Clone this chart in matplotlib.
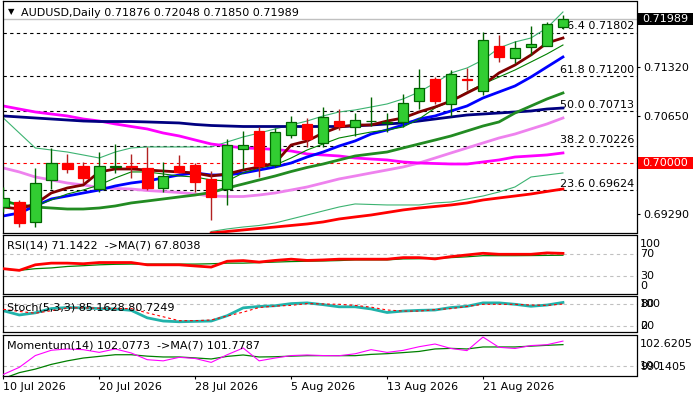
import matplotlib
matplotlib.use("Agg")
import matplotlib.pyplot as plt
import numpy as np
import pandas as pd
from matplotlib.transforms import blended_transform_factory as blend
from matplotlib.patches import Rectangle

plt.rcParams['font.family'] = ['DejaVu Sans']

# ---------------- data ----------------
symbol = "AUDUSD"
timeframe = "Daily"
dates = pd.bdate_range("2026-07-10", periods=36)
date_labels = ["10 Jul 2026", "20 Jul 2026", "28 Jul 2026", "5 Aug 2026", "13 Aug 2026", "21 Aug 2026"]

opens = [0.69387, 0.69452, 0.69175, 0.69757, 0.69992, 0.69955, 0.69632, 0.69940, 0.69948, 0.69923,
         0.69646, 0.69955, 0.69968, 0.69770, 0.69640, 0.70186, 0.70439, 0.69964, 0.70384, 0.70532,
         0.70269, 0.70577, 0.70498, 0.70573, 0.70550, 0.70559, 0.70850, 0.71159, 0.70808, 0.71152,
         0.70997, 0.71615, 0.71445, 0.71597, 0.71619, 0.71876]
highs = [0.69664, 0.69484, 0.69923, 0.70199, 0.70121, 0.70014, 0.70144, 0.70259, 0.70116, 0.70213,
         0.70014, 0.70107, 0.69992, 0.69889, 0.70324, 0.70439, 0.70498, 0.70485, 0.70647, 0.70615,
         0.70767, 0.70743, 0.70692, 0.70914, 0.70688, 0.70951, 0.71297, 0.71190, 0.71283, 0.71307,
         0.71805, 0.71768, 0.71685, 0.71896, 0.71952, 0.72048]
lows = [0.69318, 0.69114, 0.69106, 0.69636, 0.69853, 0.69715, 0.69599, 0.69862, 0.69784, 0.69622,
        0.69599, 0.69853, 0.69599, 0.69207, 0.69415, 0.69917, 0.69806, 0.69937, 0.70338, 0.70222,
        0.70222, 0.70453, 0.70370, 0.70508, 0.70425, 0.70498, 0.70743, 0.70813, 0.70651, 0.71006,
        0.70937, 0.71398, 0.71376, 0.71491, 0.71610, 0.71850]
closes = [0.69512, 0.69161, 0.69715, 0.69992, 0.69917, 0.69793, 0.69950, 0.69948, 0.69940, 0.69654,
          0.69816, 0.69867, 0.69729, 0.69530, 0.70241, 0.70241, 0.69959, 0.70421, 0.70559, 0.70324,
          0.70637, 0.70508, 0.70591, 0.70584, 0.70570, 0.70826, 0.71030, 0.70858, 0.71228, 0.71138,
          0.71694, 0.71467, 0.71588, 0.71643, 0.71916, 0.71989]

ma_maroon = [0.69387, 0.69359, 0.69429, 0.69581, 0.69650, 0.69692, 0.69872, 0.69913, 0.69913, 0.69899,
             0.69885, 0.69872, 0.69858, 0.69816, 0.69844, 0.69899, 0.69941, 0.69996, 0.70245, 0.70301,
             0.70411, 0.70494, 0.70522, 0.70522, 0.70577, 0.70619, 0.70702, 0.70771, 0.70854, 0.70965,
             0.71076, 0.71242, 0.71352, 0.71491, 0.71657, 0.71726]
ma_blue = [0.69263, 0.69304, 0.69401, 0.69498, 0.69539, 0.69581, 0.69622, 0.69678, 0.69719, 0.69747,
           0.69789, 0.69830, 0.69858, 0.69830, 0.69830, 0.69858, 0.69899, 0.69941, 0.69996, 0.70079,
           0.70148, 0.70231, 0.70301, 0.70397, 0.70453, 0.70522, 0.70605, 0.70647, 0.70716, 0.70785,
           0.70896, 0.70979, 0.71062, 0.71186, 0.71325, 0.71463]
ma_thin_green = [0.69484, 0.69415, 0.69401, 0.69484, 0.69567, 0.69622, 0.69692, 0.69789, 0.69872, 0.69872,
                 0.69844, 0.69816, 0.69802, 0.69761, 0.69747, 0.69858, 0.69927, 0.69968, 0.70065, 0.70176,
                 0.70259, 0.70342, 0.70384, 0.70425, 0.70453, 0.70494, 0.70605, 0.70757, 0.70854, 0.70979,
                 0.71089, 0.71186, 0.71283, 0.71394, 0.71505, 0.71629]
ma_green = [0.69470, 0.69415, 0.69387, 0.69373, 0.69359, 0.69359, 0.69373, 0.69401, 0.69443, 0.69470,
            0.69498, 0.69526, 0.69553, 0.69588, 0.69650, 0.69705, 0.69761, 0.69816, 0.69878, 0.69934,
            0.69982, 0.70038, 0.70093, 0.70121, 0.70148, 0.70204, 0.70259, 0.70314, 0.70370, 0.70439,
            0.70508, 0.70564, 0.70688, 0.70785, 0.70882, 0.70965]
ma_navy = [0.70647, 0.70633, 0.70619, 0.70605, 0.70591, 0.70577, 0.70570, 0.70570, 0.70570, 0.70564,
           0.70557, 0.70550, 0.70529, 0.70515, 0.70508, 0.70501, 0.70501, 0.70501, 0.70501, 0.70501,
           0.70501, 0.70501, 0.70508, 0.70522, 0.70536, 0.70550, 0.70577, 0.70605, 0.70633, 0.70660,
           0.70674, 0.70688, 0.70702, 0.70716, 0.70743, 0.70757]
ma_magenta = [0.70785, 0.70743, 0.70702, 0.70674, 0.70647, 0.70605, 0.70577, 0.70536, 0.70501, 0.70467,
              0.70411, 0.70370, 0.70314, 0.70259, 0.70231, 0.70204, 0.70197, 0.70183, 0.70162, 0.70121,
              0.70107, 0.70093, 0.70065, 0.70051, 0.70038, 0.70010, 0.69996, 0.69989, 0.69982, 0.69982,
              0.70010, 0.70038, 0.70079, 0.70093, 0.70107, 0.70135]
ma_violet = [0.69927, 0.69872, 0.69802, 0.69761, 0.69719, 0.69692, 0.69657, 0.69643, 0.69636, 0.69615,
             0.69602, 0.69588, 0.69567, 0.69539, 0.69532, 0.69532, 0.69553, 0.69581, 0.69622, 0.69664,
             0.69719, 0.69775, 0.69816, 0.69858, 0.69899, 0.69941, 0.69996, 0.70065, 0.70135, 0.70204,
             0.70273, 0.70342, 0.70397, 0.70467, 0.70536, 0.70619]
ma_red = [np.nan] * 13 + [0.69027, 0.69048, 0.69069, 0.69090, 0.69110, 0.69131, 0.69152, 0.69180, 0.69221,
                          0.69249, 0.69276, 0.69311, 0.69346, 0.69373, 0.69394, 0.69415, 0.69443, 0.69484,
                          0.69512, 0.69539, 0.69567, 0.69602, 0.69636]
band_upper = [0.70619, 0.70411, 0.70204, 0.70176, 0.70148, 0.70107, 0.70065, 0.70148, 0.70204, 0.70218,
              0.70218, 0.70218, 0.70218, 0.70218, 0.70287, 0.70356, 0.70411, 0.70467, 0.70522, 0.70577,
              0.70647, 0.70702, 0.70730, 0.70771, 0.70813, 0.70882, 0.70979, 0.71103, 0.71242, 0.71311,
              0.71422, 0.71588, 0.71671, 0.71726, 0.71865, 0.72086]
band_lower = [np.nan] * 13 + [0.69048, 0.69083, 0.69110, 0.69131, 0.69166, 0.69221, 0.69276, 0.69332, 0.69387,
                              0.69429, 0.69422, 0.69415, 0.69415, 0.69415, 0.69443, 0.69456, 0.69498, 0.69539,
                              0.69595, 0.69664, 0.69802, 0.69830, 0.69858]

fib_pct = ["23.6", "38.2", "50.0", "61.8", "76.4"]
fib_vals = [0.69624, 0.70226, 0.70713, 0.71200, 0.71802]
level_line = 0.70000
price_ticks = [0.71320, 0.70650, 0.69290]

rsi = [43.6, 40.6, 50.6, 53.6, 53.6, 52.5, 54.7, 54.7, 54.7, 50.6,
       50.6, 50.6, 48.5, 46.5, 57.0, 58.2, 55.5, 58.5, 60.7, 58.5,
       59.4, 60.7, 60.7, 60.7, 60.7, 63.5, 63.5, 61.2, 65.3, 68.3,
       71.3, 69.5, 69.5, 69.5, 72.0, 71.1422]
rsi_ma = [43.0, 40.6, 43.6, 45.0, 47.6, 49.0, 50.6, 51.5, 51.9, 51.9,
          51.9, 51.9, 51.9, 52.5, 53.6, 53.6, 54.5, 55.5, 56.4, 57.0,
          57.5, 58.2, 59.4, 59.4, 59.4, 61.2, 61.5, 62.5, 63.5, 65.0,
          67.0, 67.0, 67.0, 67.2, 67.5, 67.8038]
stoch_k = [62, 50, 56, 68, 71, 70, 68, 67, 63, 42,
           33, 31, 32, 33, 48, 70, 74, 76, 82, 84,
           79, 73, 73, 67, 57, 61, 63, 64, 71, 74.5,
           84, 84, 80, 74.5, 78, 85.1628]
stoch_d = [66, 60, 55, 62, 70, 70, 69, 68, 68, 56,
           45, 34, 34, 36, 47, 58, 71, 75, 77, 82,
           81, 80, 77, 72, 64, 61, 61, 65, 68, 74,
           80, 80, 80, 78, 77, 80.7249]
momentum = [99.25, 99.85, 100.85, 101.3, 101.41, 101.35, 101.12, 101.41, 101.07, 100.5,
            100.4, 100.7, 100.6, 100.27, 100.92, 101.49, 100.4, 100.64, 100.85, 100.9,
            100.85, 100.84, 101.0, 101.35, 101.12, 101.29, 101.6, 101.83, 101.45, 101.27,
            102.42, 101.55, 101.45, 101.7, 101.77, 102.0773]
momentum_ma = [98.9, 99.4, 99.7, 100.1, 100.4, 100.64, 100.78, 100.92, 100.92, 100.8,
               100.73, 100.73, 100.65, 100.56, 100.78, 100.9, 100.73, 100.75, 100.8, 100.84,
               100.84, 100.84, 100.84, 100.95, 101.01, 101.1, 101.2, 101.41, 101.46, 101.41,
               101.58, 101.58, 101.58, 101.65, 101.72, 101.7787]
mom_max, mom_min = 102.6205, 99.1405

# ---------------- layout ----------------
W, H = 700, 400
fig = plt.figure(figsize=(7, 4), dpi=100)
fig.patch.set_facecolor("white")


def panel(top, bottom):
    a = fig.add_axes([3 / W, 1 - bottom / H, (636.5 - 3) / W, (bottom - top) / H])
    for s in a.spines.values():
        s.set_linewidth(0.9)
        s.set_color("black")
    a.set_xlim(-0.02, 39.6)
    a.tick_params(axis="x", bottom=False, labelbottom=False)
    a.tick_params(axis="y", left=False, labelleft=False, right=False, labelright=False)
    return a


ax = panel(1, 233)
ax_rsi = panel(235.3, 293.7)
ax_st = panel(296.3, 332)
ax_mo = panel(334.7, 375.7)

x = np.arange(len(closes))
o, h, l, c = map(np.array, (opens, highs, lows, closes))
up = c >= o

# ---------------- main panel ----------------
ax.set_ylim(0.69027, 0.72238)

# fib / level lines
for pct, v in zip(fib_pct, fib_vals):
    ax.axhline(v, color="black", lw=0.8, ls=(0, (3, 3)), zorder=1)
    ax.annotate(f"{pct} {v:.5f}", xy=(1, v), xycoords=("axes fraction", "data"),
                xytext=(-1.5, 2.2), textcoords="offset points", ha="right", va="baseline",
                fontsize=8, color="black", zorder=1.5)
ax.axhline(level_line, color="#FF0000", lw=0.8, ls=(0, (3, 3)), zorder=1)
ax.axhline(closes[-1], color="#C0C0C0", lw=1.0, zorder=1)

# indicator lines
ax.plot(x, band_upper, color="#3CB371", lw=0.8, zorder=2)
ax.plot(x, band_lower, color="#3CB371", lw=0.8, zorder=2)
ax.plot(x, ma_red, color="#FF0000", lw=2.0, zorder=2)
ax.plot(x, ma_violet, color="#EE82EE", lw=2.0, zorder=2)
ax.plot(x, ma_magenta, color="#FF00FF", lw=2.0, zorder=2)
ax.plot(x, ma_navy, color="#000080", lw=2.0, zorder=2)
ax.plot(x, ma_green, color="#228B22", lw=2.0, zorder=2)
ax.plot(x, ma_blue, color="#0000FF", lw=2.0, zorder=2)
ax.plot(x, ma_thin_green, color="#008000", lw=0.8, zorder=2)
ax.plot(x, ma_maroon, color="#800000", lw=2.0, zorder=2)

# candles
wick_col = np.where(up, "#006400", "#B22222")
body_col = np.where(up, "#32CD32", "#FF0000")
edge_col = np.where(up, "#006400", "#FF0000")
ax.vlines(x, l, h, colors=wick_col, lw=1.0, zorder=3)
body_h = np.maximum(np.abs(c - o), 0.00004)
ax.bar(x, body_h, bottom=np.minimum(o, c), width=0.66, color=body_col,
       edgecolor=edge_col, linewidth=0.9, zorder=4)

# right price scale
ax.yaxis.tick_right()
ax.set_yticks(price_ticks)
ax.set_yticklabels([f"{v:.5f}" for v in price_ticks])
ax.tick_params(axis="y", right=True, labelright=True, length=2, width=0.8, pad=3, labelsize=8)

tr_main = blend(fig.transFigure, ax.transData)
box_h = 12 * (0.72238 - 0.69027) / 232
for v, fc in ((closes[-1], "black"), (level_line, "#FF0000")):
    ax.add_patch(Rectangle((638 / W, v - box_h / 2), 55 / W, box_h, transform=tr_main,
                           facecolor=fc, edgecolor="none", clip_on=False, zorder=10))
    ax.text(642 / W, v, f"{v:.5f}", transform=tr_main, color="white", fontsize=8,
            va="center", ha="left", clip_on=False, zorder=11)

fig.text(11 / W, 1 - 12 / H, "\u25BC", fontsize=6, ha="center", va="center")
fig.text(21 / W, 1 - 12.7 / H,
         f"{symbol},{timeframe} {opens[-1]:.5f} {highs[-1]:.5f} {lows[-1]:.5f} {closes[-1]:.5f}",
         fontsize=8, va="center", ha="left")

# ---------------- RSI ----------------
ax_rsi.set_ylim(-1.3, 103.6)
for lv in (70, 30):
    ax_rsi.axhline(lv, color="#C0C0C0", lw=0.8, ls=(0, (3, 3)), zorder=1)
ax_rsi.plot(x, rsi, color="#FF0000", lw=2.0, zorder=3)
ax_rsi.plot(x, rsi_ma, color="#008000", lw=0.9, zorder=2)
fig.text(7 / W, 1 - 246 / H, f"RSI(14) {rsi[-1]:.4f}  ->MA(7) {rsi_ma[-1]:.4f}",
         fontsize=8, va="center", ha="left")
trd = blend(fig.transFigure, ax_rsi.transData)
tra = blend(fig.transFigure, ax_rsi.transAxes)
ax_rsi.text(640 / W, 70, "70", transform=trd, fontsize=8, va="center", clip_on=False)
ax_rsi.text(640 / W, 30, "30", transform=trd, fontsize=8, va="center", clip_on=False)
ax_rsi.text(640 / W, 0.851, "100", transform=tra, fontsize=8, va="center", clip_on=False)
ax_rsi.text(640 / W, 0.127, "0", transform=tra, fontsize=8, va="center", clip_on=False)

# ---------------- Stochastic ----------------
ax_st.set_ylim(2.2, 102.5)
for lv in (80, 20):
    ax_st.axhline(lv, color="#C0C0C0", lw=0.8, ls=(0, (3, 3)), zorder=1)
ax_st.plot(x, stoch_k, color="#20B2AA", lw=2.0, zorder=2)
ax_st.plot(x, stoch_d, color="#FF0000", lw=0.8, ls=(0, (2.5, 2.5)), zorder=3)
fig.text(7 / W, 1 - 307.7 / H, f"Stoch(5,3,3) {stoch_k[-1]:.4f} {stoch_d[-1]:.4f}",
         fontsize=8, va="center", ha="left", zorder=5)
trd = blend(fig.transFigure, ax_st.transData)
for lv, txts in ((80, ("100", "80")), (20, ("0", "20"))):
    for t in txts:
        ax_st.text(640 / W, lv, t, transform=trd, fontsize=8, va="center", clip_on=False)

# ---------------- Momentum ----------------
ax_mo.set_ylim(mom_min, mom_max)
ax_mo.axhline(100, color="#C0C0C0", lw=0.8, ls=(0, (3, 3)), zorder=1)
ax_mo.plot(x, momentum_ma, color="#008000", lw=0.9, zorder=2)
ax_mo.plot(x, momentum, color="#FF00FF", lw=0.8, zorder=3)
fig.text(7 / W, 1 - 345.7 / H, f"Momentum(14) {momentum[-1]:.4f}  ->MA(7) {momentum_ma[-1]:.4f}",
         fontsize=8, va="center", ha="left")
trd = blend(fig.transFigure, ax_mo.transData)
tra = blend(fig.transFigure, ax_mo.transAxes)
ax_mo.text(640 / W, 0.78, f"{mom_max:.4f}", transform=tra, fontsize=8, va="center", clip_on=False)
ax_mo.text(640 / W, 100, "100", transform=trd, fontsize=8, va="center", clip_on=False)
ax_mo.text(640 / W, 0.205, f"{mom_min:.4f}", transform=tra, fontsize=8, va="center", clip_on=False)

# date axis
tick_idx = [dates.get_loc(pd.Timestamp(d)) for d in pd.to_datetime(date_labels, format="%d %b %Y")]
ax_mo.set_xticks(tick_idx)
ax_mo.set_xticklabels(date_labels, fontsize=8)
ax_mo.tick_params(axis="x", bottom=True, labelbottom=True, length=2.5, width=0.8, pad=2, direction="out")
for lab in ax_mo.get_xticklabels():
    lab.set_horizontalalignment("left")

fig.savefig("out.png", dpi=100, facecolor="white")
